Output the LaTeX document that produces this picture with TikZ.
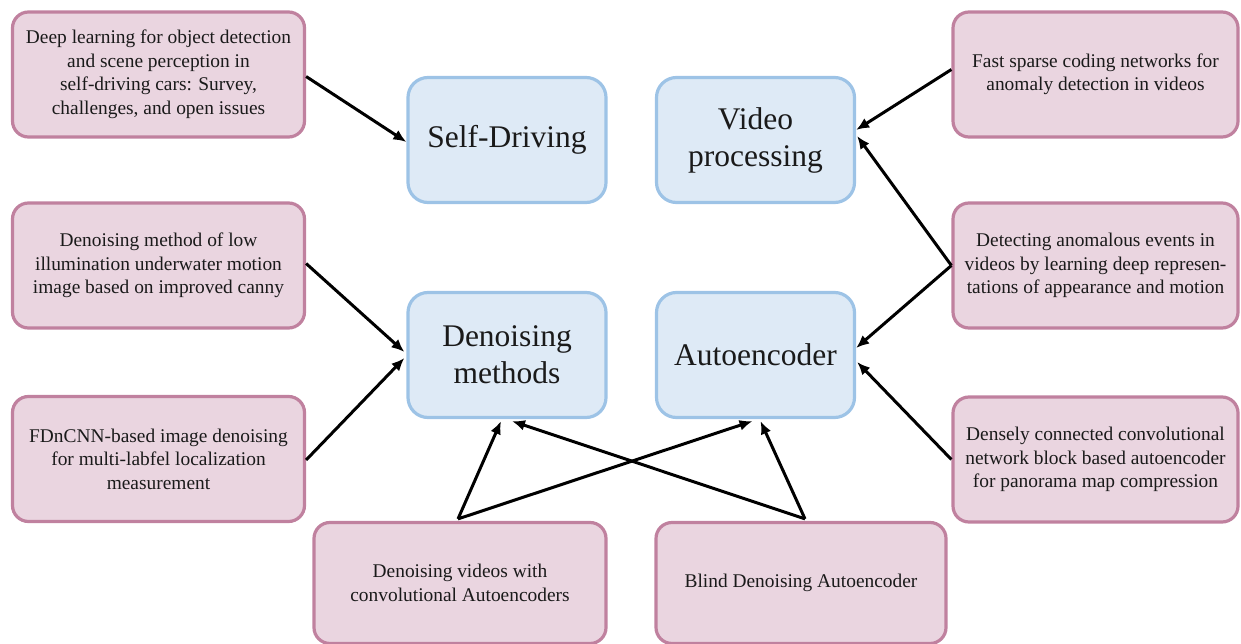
\documentclass[tikz,border=0pt]{standalone}
\usepackage{fontspec}
\setmainfont{Liberation Serif}
\usetikzlibrary{arrows.meta,calc}
\definecolor{pinkfill}{HTML}{EAD5E0}
\definecolor{pinkdraw}{HTML}{C0819F}
\definecolor{bluefill}{HTML}{DEEAF6}
\definecolor{bluedraw}{HTML}{9DC3E6}
\definecolor{txt}{HTML}{1A1A1A}
\begin{document}
\begin{tikzpicture}[x=1pt,y=-1pt,
  paper/.style={draw=pinkdraw, fill=pinkfill, line width=3.2pt, rounded corners=16pt,
    minimum width=292pt, minimum height=125pt, align=center, text=txt,
    font=\fontsize{19.4}{23.5}\selectfont, inner sep=0pt},
  topic/.style={draw=bluedraw, fill=bluefill, line width=3.2pt, rounded corners=20pt,
    minimum width=198pt, minimum height=125pt, align=center, text=txt,
    font=\fontsize{31.5}{37}\selectfont, inner sep=0pt},
  link/.style={-{Latex[length=13pt,width=11pt]}, line width=3pt, black}]
\useasboundingbox (0,0) rectangle (1241,644);
% topic boxes
\node[topic] (B1) at (507,140) {Self-Driving};
\node[topic] (B2) at (755.5,140) {Video\\processing};
\node[topic] (B3) at (507,355) {Denoising\\methods};
\node[topic] (B4) at (755.5,355) {Autoencoder};
% paper boxes
\node[paper] (P1) at (158.5,74.5) {Deep learning for object detection\\and scene perception in\\self-driving cars: Survey,\\challenges, and open issues};
\node[paper] (P2) at (158.5,265.5) {Denoising method of low\\illumination underwater motion\\image based on improved canny};
\node[paper] (P3) at (158.5,459) {FDnCNN-based image denoising\\for multi-labfel localization\\measurement};
\node[paper, minimum width=285pt] (P4) at (1095.5,74.5) {Fast sparse coding networks for\\anomaly detection in videos};
\node[paper, minimum width=285pt] (P5) at (1095.5,265.5) {Detecting anomalous events in\\videos by learning deep represen-\\tations of appearance and motion};
\node[paper, minimum width=285pt] (P6) at (1095.5,459.5) {Densely connected convolutional\\network block based autoencoder\\for panorama map compression};
\node[paper, minimum height=121pt] (P7) at (460,583) {Denoising videos with\\convolutional Autoencoders};
\node[paper, minimum width=290pt, minimum height=121pt] (P8) at (801,583) {Blind Denoising Autoencoder};
% connectors
\draw[link] ($(P1.east)+(0,2)$) -- ($(B1.west)+(0,2)$);
\draw[link] ($(P4.west)+(0,-5)$) -- ($(B2.east)+(0,-10)$);
\draw[link] ($(P5.west)+(0,0)$) -- ($(B2.east)+(1,-4)$);
\draw[link] ($(P5.west)+(0,0)$) -- ($(B4.east)+(0,-7)$);
\draw[link] ($(P6.west)+(0,0)$) -- ($(B4.east)+(1,7)$);
\draw[link] ($(P2.east)+(0,-2)$) -- ($(B3.west)+(-2,-3)$);
\draw[link] ($(P3.east)+(0,1)$) -- ($(B3.west)+(-2,3)$);
\draw[link] ($(P7.north)+(-2,-2)$) -- ($(B3.south)+(-6,2)$);
\draw[link] ($(P7.north)+(-2,-2)$) -- ($(B4.south)+(-3,2)$);
\draw[link] ($(P8.north)+(4,-2)$) -- ($(B3.south)+(5,2)$);
\draw[link] ($(P8.north)+(4,-2)$) -- ($(B4.south)+(5,2)$);
\end{tikzpicture}
\end{document}
